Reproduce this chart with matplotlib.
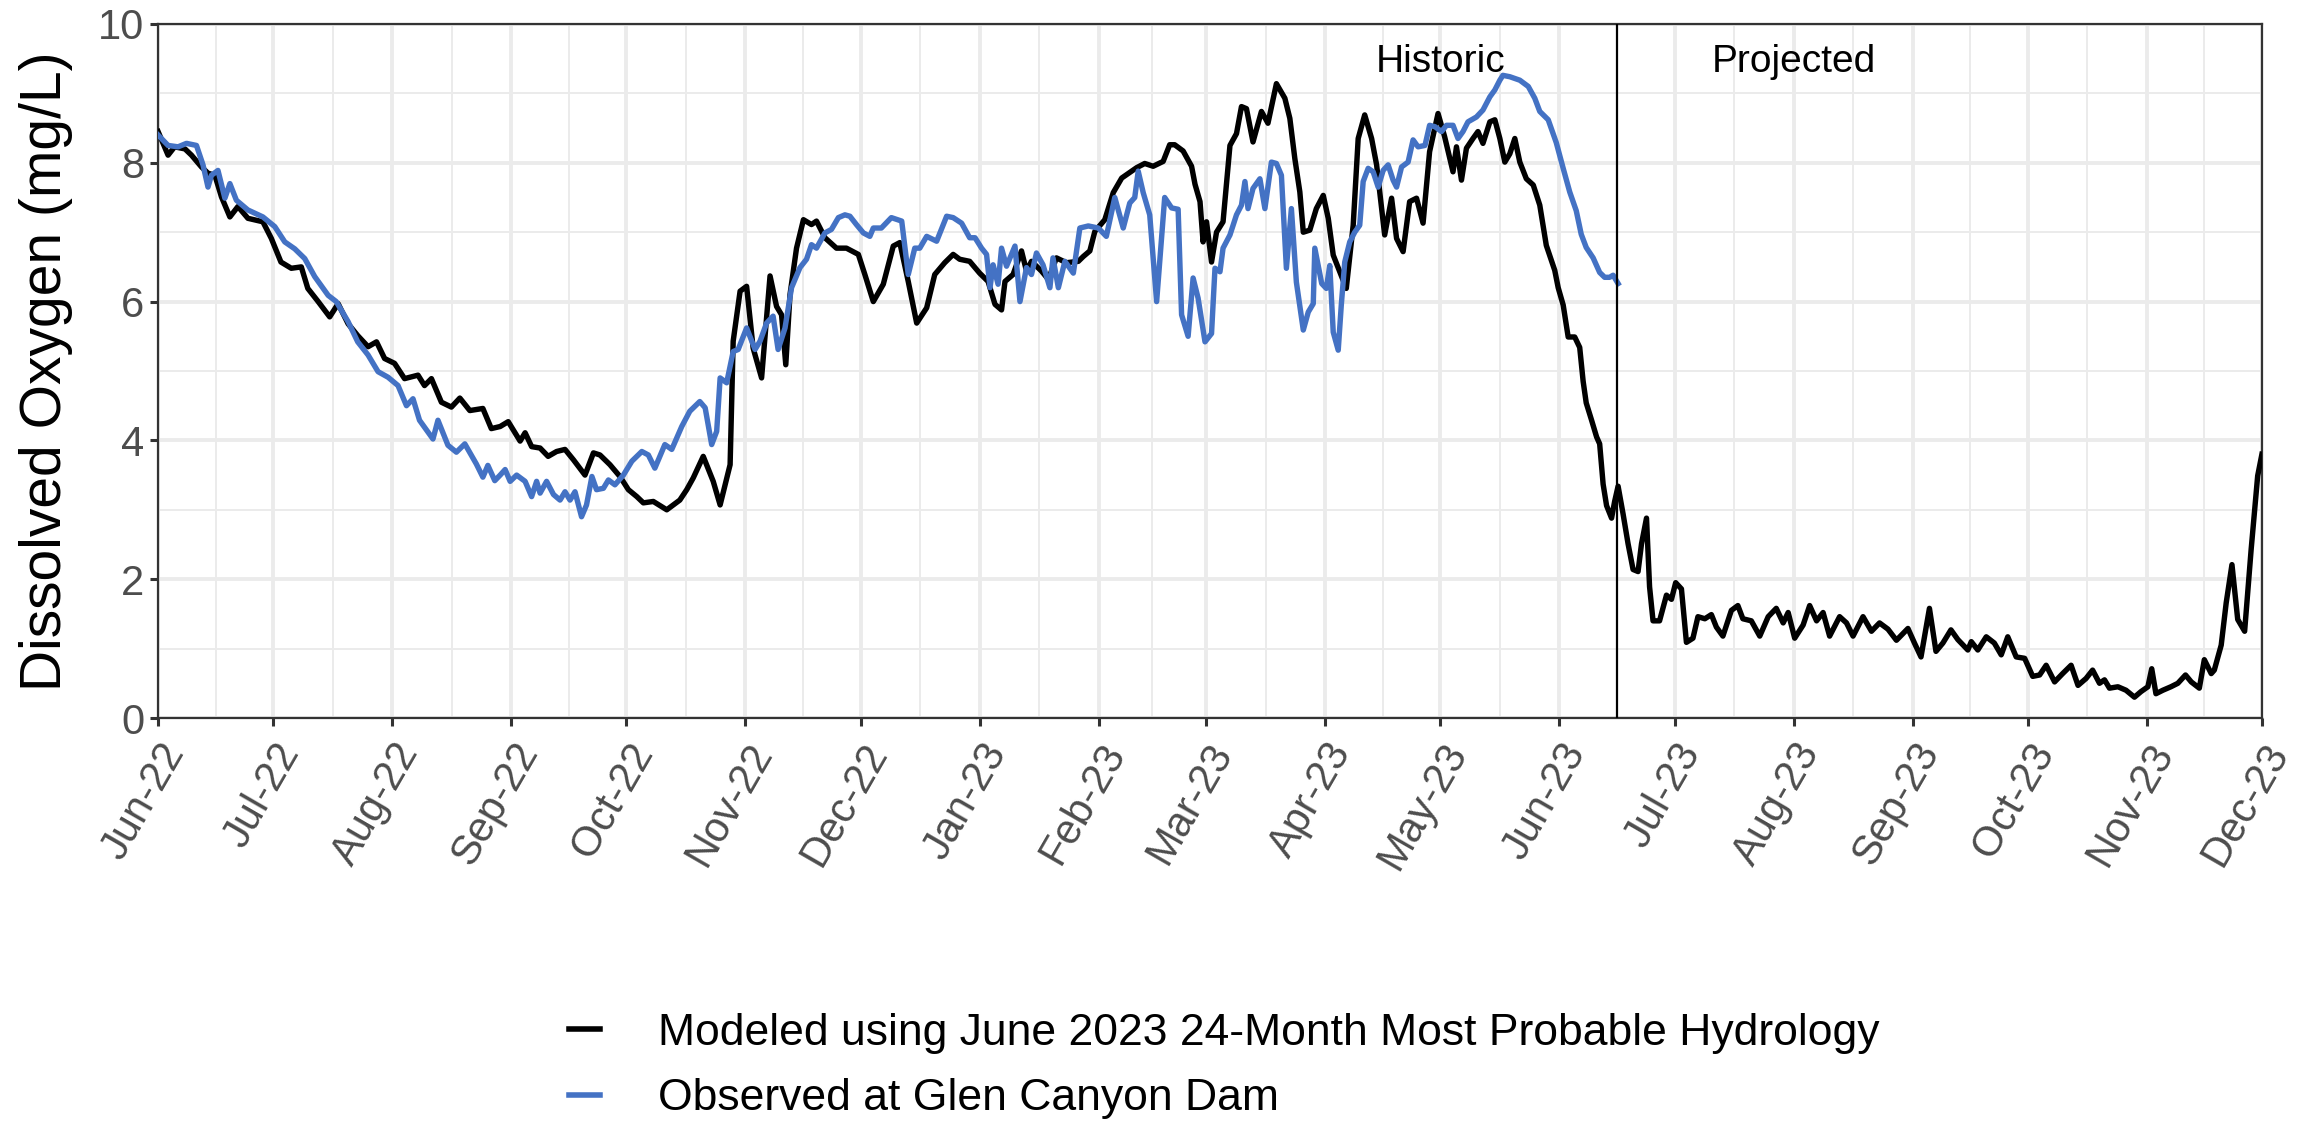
"""
Dissolved oxygen below Glen Canyon Dam: modeled vs observed, Jun 2022 - Dec 2023.
"""

import matplotlib
matplotlib.use("Agg")
import matplotlib.pyplot as plt
import matplotlib.dates as mdates
from matplotlib.lines import Line2D
import numpy as np
import pandas as pd

plt.rcParams['font.family'] = ['Liberation Sans', 'DejaVu Sans']

START = pd.Timestamp("2022-06-01")
SPLIT = pd.Timestamp("2023-06-16")   # historic / projected boundary

# modeled series: days after 2022-06-01 and DO (mg/L)
modeled_days = [
    0, 2.6, 4.3, 7, 8.7, 11.3, 13, 14.8, 16.5, 18.7, 20.8, 23.4, 27.3, 29.5, 32, 34.7,
    37.3, 39, 41.7, 44.7, 46.9, 49.5, 52, 54.7, 56.9, 59, 61.6, 64.2, 67.7, 69.4, 71.2,
    73.8, 76.4, 78.6, 81.2, 84.6, 86.8, 89.1, 91.2, 94.3, 95.6, 97.3, 99.5, 101.6,
    103.8, 106, 108.2, 111.2, 113.4, 115.1, 117.7, 120.3, 122.5, 124.7, 126.4, 129,
    132.5, 135.9, 137.7, 139.4, 142, 144.6, 146.4, 149, 149.8, 151.6, 153.3, 155,
    157.2, 159.4, 161.1, 162.4, 163.5, 164.6, 166.3, 168.1, 170.2, 171.5, 173.7,
    176.7, 179.3, 182.4, 184.1, 186.3, 188.9, 191.5, 193.2, 195.4, 197.6, 200.2,
    202.3, 204.9, 207.1, 208.8, 211.4, 214, 216.2, 218, 219.7, 220.6, 222.7, 224.9,
    226.2, 227.5, 230.1, 231.9, 234, 236.6, 239.7, 241, 242.7, 244, 246.6, 248.8,
    251, 254.9, 257, 259.2, 261.8, 263.5, 264.8, 267, 269.2, 270.1, 271.4, 272.2,
    273.1, 274.4, 275.7, 277.4, 279.2, 280.9, 282.2, 283.5, 285.2, 287.4, 289.1,
    291.3, 293.5, 294.8, 296.1, 297.4, 298.3, 300, 301.7, 303.5, 304.8, 306.1, 307.8,
    309.5, 311.3, 312.6, 314.3, 316.1, 317.4, 319.5, 321.3, 322.6, 324.3, 326, 327.8,
    329.5, 331.2, 333.4, 335.1, 337.3, 338.2, 339.5, 340.8, 342.5, 343.8, 345.1,
    346.9, 348.2, 349.5, 350.8, 352.1, 353.4, 354.7, 356.4, 358.2, 359.9, 361.6,
    363.8, 364.7, 366, 367.3, 369, 370.3, 371.2, 372, 373.4, 374.7, 375.5, 376.4,
    377.3, 378.6, 379.4, 380.3, 381.6, 382.9, 384.2, 385.5, 386.4, 387.7, 388.5,
    389.4, 391.1, 392.9, 394.2, 395.3, 396.8, 398.1, 399.8, 401.1, 402.9, 404.6,
    405.9, 407.6, 409.8, 411.5, 412.8, 415, 417.2, 419.4, 421.5, 423.3, 424.6, 426.3,
    428.5, 430.2, 432, 433.7, 435.4, 438, 439.8, 441.5, 444.1, 446.3, 448.4, 450.6,
    452.8, 455.8, 457.5, 459.2, 461.4, 463.1, 464.9, 467, 468.8, 471.4, 472.3, 474,
    476.2, 478.3, 480.1, 481.8, 484, 486.2, 488.3, 490.1, 491.8, 494, 496.1, 498.3,
    500.1, 502.2, 503.9, 505.7, 507, 508.3, 510.5, 512.6, 514.8, 516.5, 518.3, 519.3,
    520.4, 522.2, 524.3, 526.1, 528.1, 529.6, 531.7, 533, 534.8, 535.6, 537.4, 538.7,
    540.2, 541.7, 543.5, 545.2, 546.9, 548,
]
modeled_do = [
    8.45, 8.11, 8.23, 8.2, 8.11, 7.94, 7.85, 7.82, 7.51, 7.22, 7.37, 7.2, 7.15, 6.91, 6.57, 6.48,
    6.5, 6.19, 6.0, 5.78, 5.97, 5.68, 5.51, 5.35, 5.42, 5.18, 5.11, 4.89, 4.94, 4.79, 4.89,
    4.55, 4.48, 4.61, 4.43, 4.46, 4.17, 4.2, 4.27, 3.99, 4.11, 3.91, 3.89, 3.77,
    3.84, 3.87, 3.72, 3.5, 3.82, 3.79, 3.65, 3.48, 3.29, 3.19, 3.1, 3.12,
    3.0, 3.14, 3.29, 3.46, 3.77, 3.41, 3.07, 3.65, 5.43, 6.15, 6.22, 5.33,
    4.9, 6.37, 5.93, 5.81, 5.09, 6.1, 6.77, 7.18, 7.11, 7.16, 6.92,
    6.77, 6.77, 6.68, 6.39, 6.0, 6.25, 6.8, 6.85, 6.29, 5.69, 5.91,
    6.39, 6.56, 6.68, 6.61, 6.58, 6.41, 6.29, 5.96, 5.88, 6.29, 6.39, 6.73,
    6.44, 6.58, 6.44, 6.32, 6.63, 6.56, 6.58, 6.65, 6.73, 7.01, 7.18, 7.57,
    7.78, 7.93, 7.99, 7.95, 8.02, 8.26, 8.26, 8.17, 7.95, 7.69, 7.44, 6.86,
    7.15, 6.57, 7.0, 7.15, 8.25, 8.42, 8.81, 8.78, 8.3, 8.74, 8.57,
    9.14, 8.93, 8.64, 8.06, 7.58, 7.0, 7.03, 7.34, 7.53, 7.2, 6.67, 6.43,
    6.19, 7.1, 8.35, 8.69, 8.35, 7.97, 6.96, 7.49, 6.91, 6.72, 7.44, 7.49,
    7.13, 8.16, 8.71, 8.38, 7.87, 8.23, 7.75, 8.21, 8.35, 8.45, 8.28,
    8.59, 8.62, 8.35, 8.01, 8.13, 8.35, 8.01, 7.77, 7.68, 7.39, 6.81,
    6.45, 6.2, 5.95, 5.49, 5.49, 5.34, 4.85, 4.54, 4.29, 4.05, 3.95, 3.37,
    3.06, 2.88, 3.12, 3.34, 2.94, 2.51, 2.14, 2.11, 2.51, 2.88, 1.89,
    1.4, 1.4, 1.77, 1.71, 1.95, 1.86, 1.09, 1.15, 1.46, 1.43, 1.49,
    1.31, 1.18, 1.55, 1.62, 1.43, 1.4, 1.18, 1.46, 1.58, 1.37, 1.52, 1.15,
    1.34, 1.62, 1.4, 1.52, 1.18, 1.46, 1.37, 1.18, 1.46, 1.25, 1.37, 1.28,
    1.12, 1.29, 1.08, 0.88, 1.58, 0.96, 1.08, 1.27, 1.13, 0.98, 1.1, 0.98,
    1.17, 1.08, 0.91, 1.17, 0.88, 0.86, 0.6, 0.62, 0.76, 0.52, 0.64, 0.76,
    0.47, 0.57, 0.69, 0.5, 0.55, 0.43, 0.45, 0.4, 0.3, 0.38, 0.45, 0.71,
    0.35, 0.4, 0.45, 0.5, 0.62, 0.52, 0.43, 0.84, 0.64, 0.69, 1.05, 1.66,
    2.21, 1.42, 1.25, 2.43, 3.49, 3.8,
]

# observed series (ends at the historic / projected boundary)
observed_days = [
    0, 2.6, 5.2, 7.4, 10, 11.7, 13, 13.9, 15.6, 17.4, 18.7, 20.4, 23.4, 27.3, 30.4, 33,
    35.6, 38.2, 40.8, 44.3, 46.4, 49.5, 52, 54.7, 57.3, 59.9, 62.5, 64.7, 66.4, 68.1,
    71.6, 72.9, 75.5, 77.7, 79.9, 82.9, 84.6, 85.9, 87.7, 89.1, 90.4, 91.7, 93.4,
    95.6, 97.3, 98.6, 99.5, 101.2, 103, 104.7, 106, 107.3, 108.6, 110.3, 111.6, 113,
    114.2, 116, 117.3, 119, 121.2, 123.4, 126, 127.7, 129.4, 132, 133.8, 136.4, 138.5,
    141.1, 142.5, 144.2, 145.5, 146.4, 148.1, 149.8, 151.1, 153.3, 155.5, 156.8,
    158.5, 160.2, 161.5, 163.3, 165, 167.2, 168.9, 170.2, 171.5, 173.7, 175.4, 177.2,
    178.9, 180.2, 181.9, 183.7, 185.4, 186.3, 188.4, 191, 193.7, 195.4, 197.1, 198.4,
    200.2, 202.8, 205.4, 207.1, 209.3, 211.4, 212.8, 214.5, 215.8, 216.7, 217.5,
    218.8, 219.7, 221, 223.2, 224.5, 226.2, 227.5, 228.8, 230.5, 232.3, 233.1, 234.5,
    236.2, 238.4, 240.1, 242.3, 244.9, 247, 249.2, 251.4, 253.1, 254.4, 255.3, 256.6,
    258.3, 260.1, 262.2, 264, 265.7, 266.6, 268.3, 269.6, 270.9, 272.7, 274.4, 275.3,
    276.6, 277.4, 279.2, 280.9, 282.2, 283.1, 283.9, 285.2, 287, 288.3, 290, 291.3,
    292.6, 293.9, 295.2, 296.5, 298.3, 299.6, 300.9, 301.3, 303.1, 304.3, 305.2,
    306.1, 307.4, 308.2, 309.1, 310.4, 311.7, 313, 313.9, 315.2, 316.5, 317.8, 319.1,
    320.4, 321.7, 322.6, 323.9, 325.6, 326.9, 328.2, 330, 331.2, 332.6, 334.3, 335.6,
    337.3, 338.6, 339.9, 341.2, 343.4, 345.1, 346.9, 348.2, 349.5, 350.3, 352.1,
    354.7, 356.9, 358.6, 359.9, 362.1, 364.2, 366, 367.7, 369.4, 370.7, 372, 373.8,
    375.5, 376.8, 378.1, 379, 380.3,
]
observed_do = [
    8.4, 8.25, 8.23, 8.28, 8.25, 7.97, 7.65, 7.82, 7.89, 7.49, 7.7, 7.46, 7.32, 7.22, 7.08, 6.86,
    6.76, 6.62, 6.36, 6.09, 6.0, 5.71, 5.42, 5.23, 4.99, 4.91, 4.79, 4.5, 4.6, 4.29,
    4.02, 4.29, 3.93, 3.83, 3.95, 3.66, 3.47, 3.64, 3.42, 3.5, 3.58, 3.41, 3.5,
    3.41, 3.19, 3.41, 3.24, 3.41, 3.22, 3.14, 3.26, 3.14, 3.26, 2.9, 3.07, 3.48,
    3.29, 3.31, 3.43, 3.36, 3.5, 3.7, 3.84, 3.79, 3.6, 3.94, 3.87, 4.2, 4.42,
    4.56, 4.47, 3.94, 4.13, 4.9, 4.83, 5.28, 5.31, 5.62, 5.31, 5.43,
    5.69, 5.79, 5.31, 5.62, 6.2, 6.49, 6.61, 6.82, 6.77, 6.99, 7.04, 7.21,
    7.25, 7.23, 7.11, 6.99, 6.94, 7.06, 7.06, 7.21, 7.16, 6.39, 6.77, 6.77,
    6.94, 6.87, 7.23, 7.21, 7.13, 6.92, 6.92, 6.77, 6.68, 6.2, 6.53,
    6.25, 6.77, 6.51, 6.8, 6.0, 6.49, 6.39, 6.7, 6.53, 6.2, 6.63, 6.2,
    6.58, 6.41, 7.06, 7.09, 7.06, 6.94, 7.5, 7.06, 7.42, 7.5, 7.88, 7.57,
    7.25, 6.0, 7.5, 7.35, 7.33, 5.81, 5.5, 6.34, 6.05, 5.42, 5.54, 6.48,
    6.43, 6.77, 6.96, 7.25, 7.39, 7.73, 7.34, 7.63, 7.77, 7.34, 8.01, 7.99,
    7.82, 6.48, 7.34, 6.28, 5.59, 5.85, 5.97, 6.77, 6.26, 6.19, 6.52,
    5.56, 5.3, 5.95, 6.57, 6.86, 7.0, 7.1, 7.73, 7.92, 7.87, 7.65, 7.89,
    7.97, 7.75, 7.65, 7.94, 8.01, 8.33, 8.23, 8.25, 8.54, 8.52, 8.45, 8.54,
    8.54, 8.35, 8.45, 8.59, 8.66, 8.76, 8.95, 9.05, 9.19, 9.26, 9.24,
    9.19, 9.1, 8.93, 8.74, 8.62, 8.29, 7.92, 7.58, 7.31, 6.97, 6.78, 6.63,
    6.42, 6.35, 6.35, 6.38, 6.26,
]

series_labels = [
    "Modeled using June 2023 24-Month Most Probable Hydrology",
    "Observed at Glen Canyon Dam",
]
series_colors = ["black", "#4472C4"]
period_labels = ["Historic", "Projected"]
period_label_dates = ["2023-05-01", "2023-08-01"]

x_mod = START + pd.to_timedelta(modeled_days, unit="D")
x_obs = START + pd.to_timedelta(observed_days, unit="D")

month_ticks = pd.date_range("2022-06-01", "2023-12-01", freq="MS")
tick_num = mdates.date2num(month_ticks)
minor_num = (tick_num[:-1] + tick_num[1:]) / 2

fig = plt.figure(figsize=(23.18, 11.21), dpi=100)
ax = fig.add_axes([0.0682, 0.3595, 0.9076, 0.6191])

ax.plot(x_mod, modeled_do, color=series_colors[0], lw=3.9, zorder=3)
ax.plot(x_obs, observed_do, color=series_colors[1], lw=3.9, zorder=4)
ax.axvline(SPLIT, color="black", lw=1.6, zorder=5)

for lab, d in zip(period_labels, period_label_dates):
    ax.text(pd.Timestamp(d), 9.45, lab, ha="center", va="center", fontsize=28)

ax.set_xlim(month_ticks[0], month_ticks[-1])
ax.set_ylim(0, 10)
ax.set_xticks(month_ticks)
ax.set_xticks(minor_num, minor=True)
ax.xaxis.set_major_formatter(mdates.DateFormatter("%b-%y"))
ax.set_yticks(range(0, 11, 2))
ax.set_yticks(range(1, 10, 2), minor=True)

ax.grid(which="major", color="#EBEBEB", lw=2.8, zorder=0)
ax.grid(which="minor", color="#EBEBEB", lw=1.4, zorder=0)
ax.set_axisbelow(True)

for sp in ax.spines.values():
    sp.set_color("#333333")
    sp.set_linewidth(1.6)

ax.tick_params(which="major", color="#333333", width=2.2, length=6,
               labelsize=30, labelcolor="#4D4D4D", pad=4)
ax.tick_params(axis="x", which="major", pad=7)
ax.tick_params(which="minor", length=0)
plt.setp(ax.get_xticklabels(), rotation=60, ha="right", va="top",
         rotation_mode="anchor")

ax.set_ylabel("Dissolved Oxygen (mg/L)", fontsize=41, labelpad=18)

handles = [Line2D([], [], color=c, lw=4) for c in series_colors]
fig.legend(handles, series_labels, loc="upper left",
           bbox_to_anchor=(569 / 2318, 1 - 1013 / 1121), frameon=False,
           fontsize=32, handlelength=0.7, handletextpad=1.3, labelspacing=0.55,
           borderpad=0, borderaxespad=0)

fig.savefig("out.png", dpi=100)
